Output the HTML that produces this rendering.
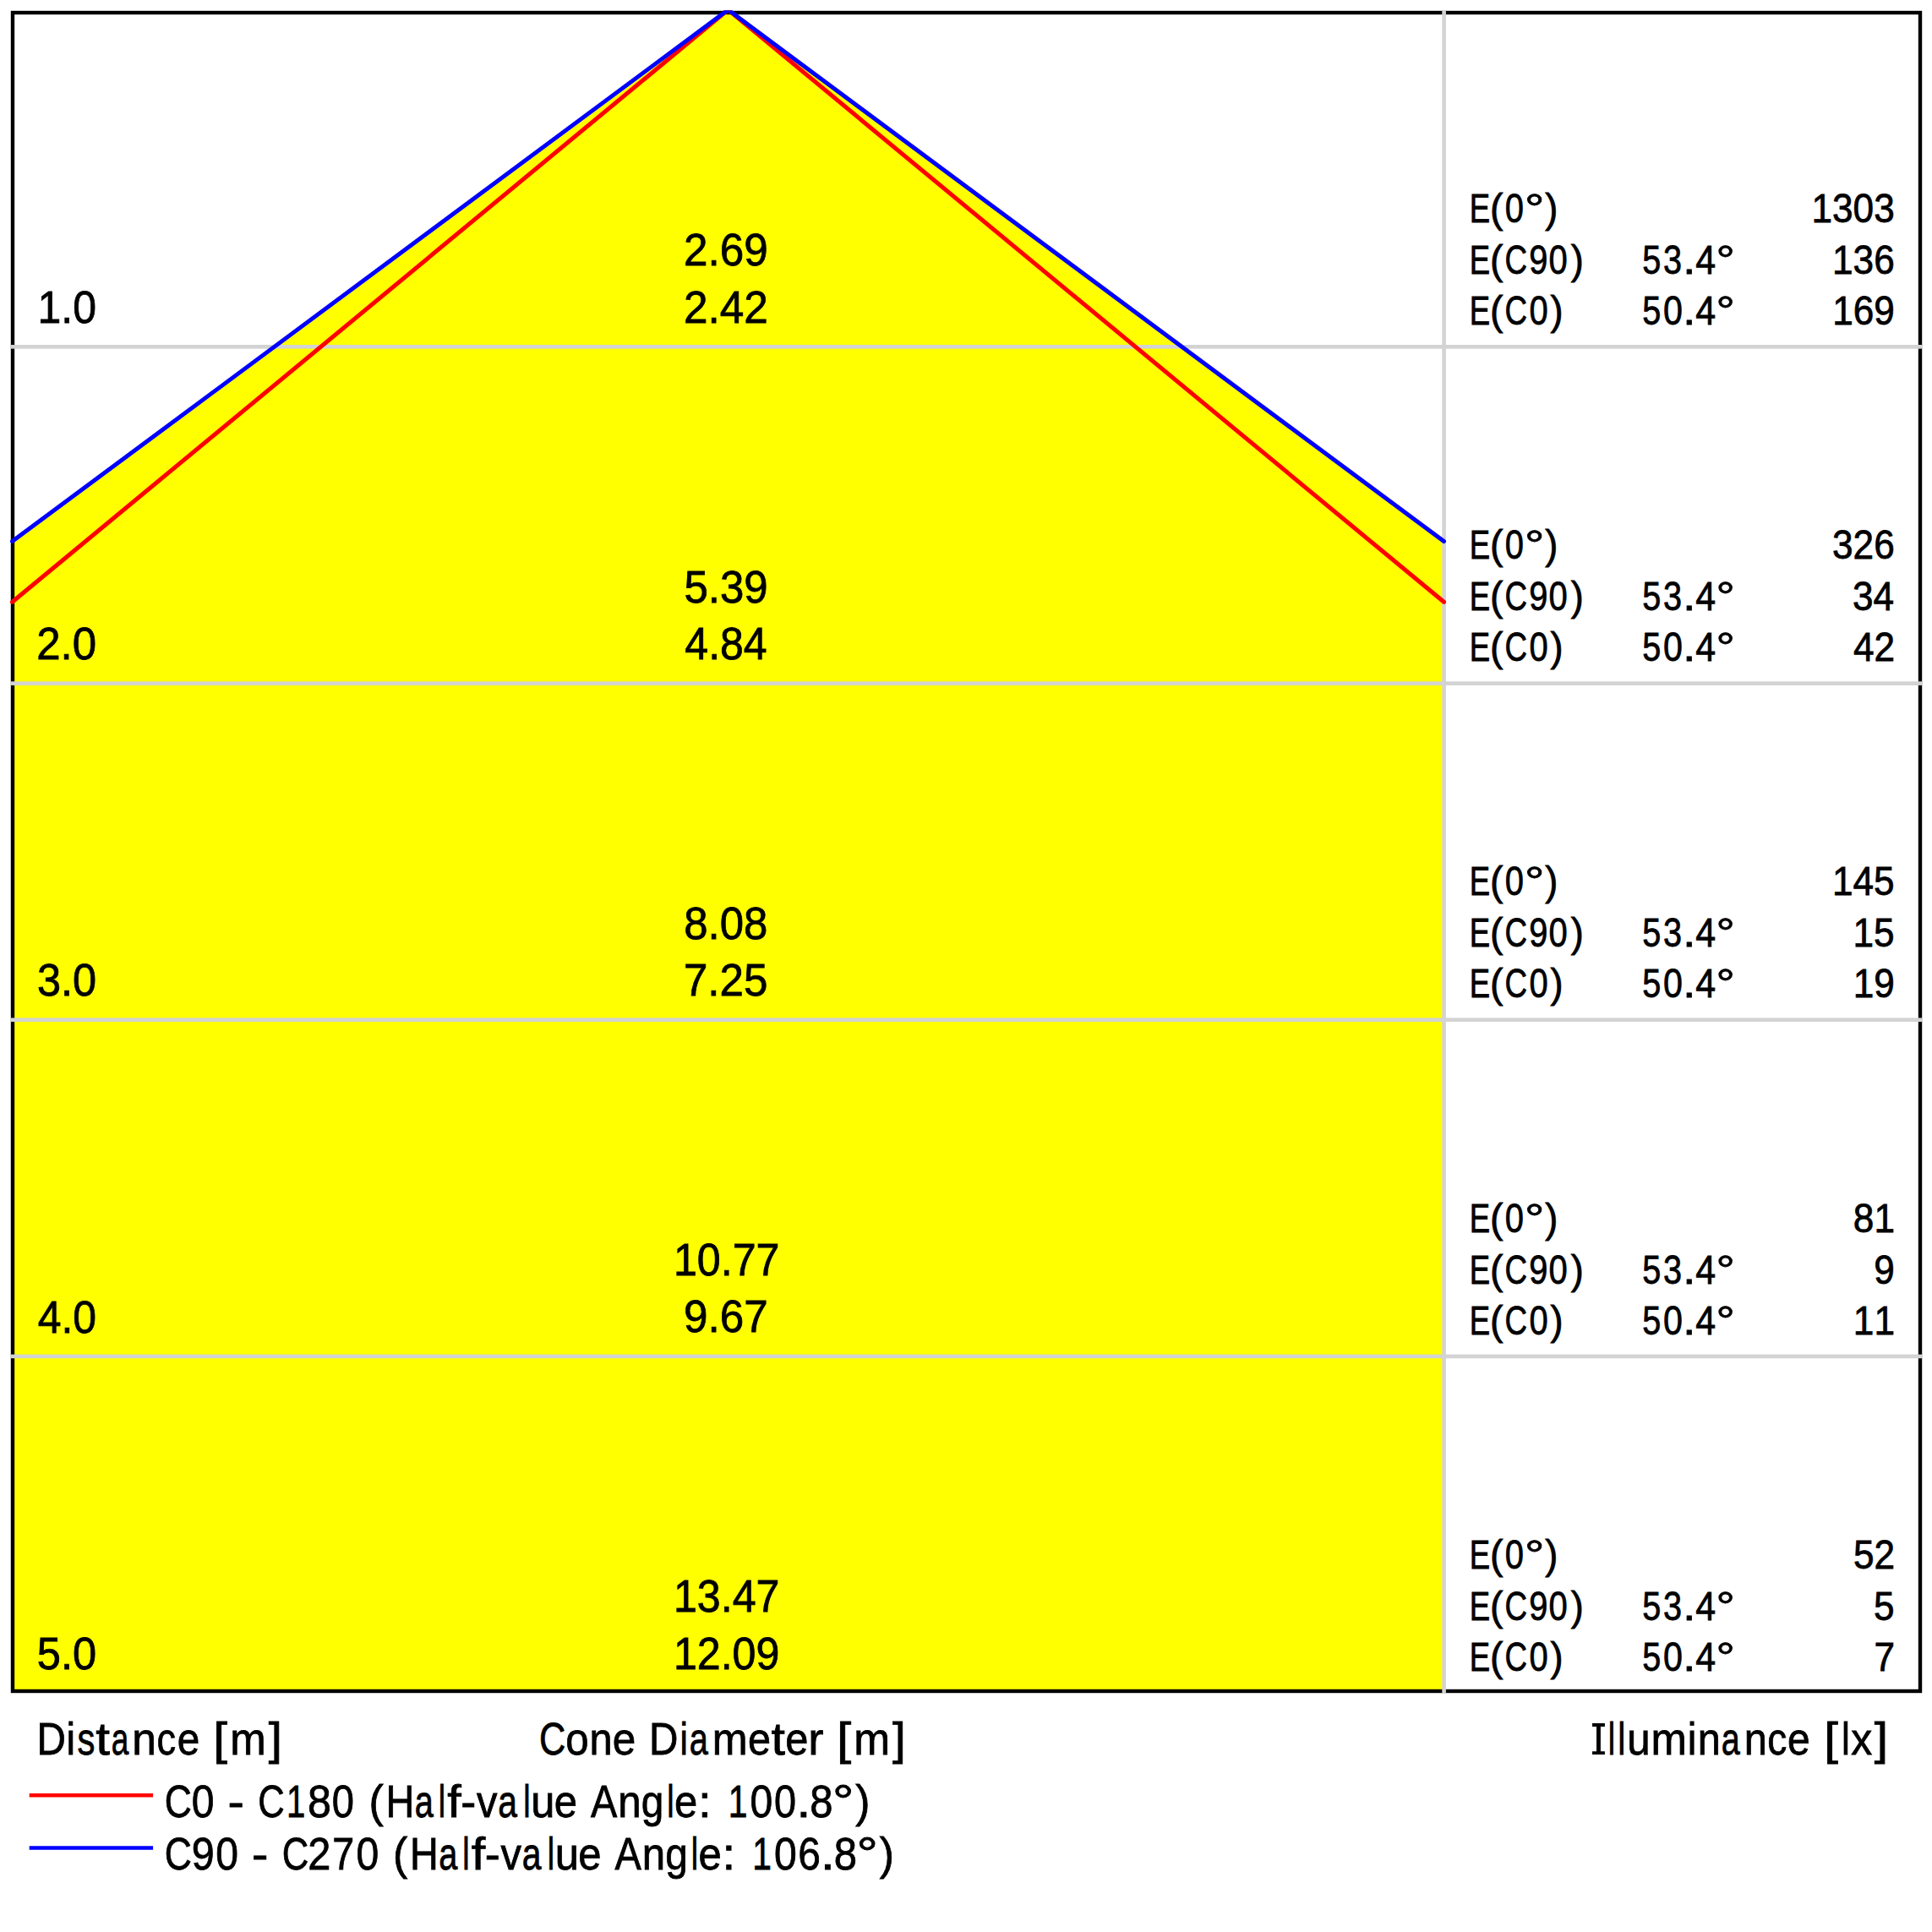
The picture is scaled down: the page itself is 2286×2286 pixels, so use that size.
<!DOCTYPE html>
<html><head><meta charset="utf-8"><title>Cone Diagram</title>
<style>html,body{margin:0;padding:0;background:#fff;}body{width:2286px;height:2286px;overflow:hidden;font-family:"Liberation Sans",sans-serif;}svg{display:block;}</style>
</head><body>
<svg width="2286" height="2286" viewBox="0 0 2286 2286">
<defs><clipPath id="cp"><rect x="0" y="12.3" width="2286" height="2000"/></clipPath></defs>
<rect x="0" y="0" width="2286" height="2286" fill="#fff"/>
<polygon points="861.5,11.6 1708.5,640.6 1708.5,2001 14.5,2001 14.5,640.6" fill="#ffff00"/>
<rect x="15" y="15" width="2257" height="1986" fill="none" stroke="#000" stroke-width="4.4"/>
<rect x="1706.30" y="12.6" width="4.6" height="1990.8" fill="#d3d3d3"/>
<rect x="12.6" y="408.00" width="2262.0" height="4.6" fill="#d3d3d3"/>
<rect x="12.6" y="806.30" width="2262.0" height="4.6" fill="#d3d3d3"/>
<rect x="12.6" y="1204.40" width="2262.0" height="4.6" fill="#d3d3d3"/>
<rect x="12.6" y="1602.60" width="2262.0" height="4.6" fill="#d3d3d3"/>
<g clip-path="url(#cp)" fill="none" stroke-width="5.0" stroke-linecap="round" stroke-linejoin="round">
<polyline points="14.5,712.3 861.5,11.6 1708.5,712.3" stroke="#ff0000"/>
<polyline points="14.5,640.6 861.5,11.6 1708.5,640.6" stroke="#0000ff"/>
</g>
<g font-family="'Liberation Sans', sans-serif" stroke="#000" stroke-width="0.8" style="font-kerning:none;font-variant-ligatures:none">
<text transform="matrix(0.9392,0,0,1,44.59,382.00)" font-size="53.2" fill="#000">1.0</text>
<text transform="matrix(0.9629,0,0,1,808.92,314.30)" font-size="53.2" fill="#000">2.69</text>
<text transform="matrix(0.9644,0,0,1,808.92,381.80)" font-size="53.2" fill="#000">2.42</text>
<text transform="matrix(0.7611,0,0,1,1738.80,262.90)" font-size="48.0">E</text>
<text transform="matrix(0.9665,0,0,1,1762.92,262.90)" font-size="48.0">(</text>
<text transform="matrix(0.8324,0,0,1,1780.74,262.90)" font-size="48.0">0</text>
<text transform="matrix(1.2190,0,0,1,1804.01,262.90)" font-size="48.0">°</text>
<text transform="matrix(0.9429,0,0,1,1828.23,262.90)" font-size="48.0">)</text>
<text transform="matrix(0.7611,0,0,1,1738.80,323.90)" font-size="48.0">E</text>
<text transform="matrix(0.9665,0,0,1,1762.92,323.90)" font-size="48.0">(</text>
<text transform="matrix(0.7665,0,0,1,1780.43,323.90)" font-size="48.0">C</text>
<text transform="matrix(0.8299,0,0,1,1809.33,323.90)" font-size="48.0">9</text>
<text transform="matrix(0.8324,0,0,1,1832.54,323.90)" font-size="48.0">0</text>
<text transform="matrix(0.9429,0,0,1,1858.63,323.90)" font-size="48.0">)</text>
<text transform="matrix(0.7611,0,0,1,1738.80,384.00)" font-size="48.0">E</text>
<text transform="matrix(0.9665,0,0,1,1762.92,384.00)" font-size="48.0">(</text>
<text transform="matrix(0.7665,0,0,1,1780.43,384.00)" font-size="48.0">C</text>
<text transform="matrix(0.8324,0,0,1,1809.44,384.00)" font-size="48.0">0</text>
<text transform="matrix(0.9429,0,0,1,1834.43,384.00)" font-size="48.0">)</text>
<text transform="matrix(0.8261,0,0,1,1943.21,323.90)" font-size="48.0">5</text>
<text transform="matrix(0.8261,0,0,1,1967.99,323.90)" font-size="48.0">3</text>
<text transform="matrix(1.1597,0,0,1,1991.02,323.90)" font-size="48.0">.</text>
<text transform="matrix(0.8930,0,0,1,2006.32,323.90)" font-size="48.0">4</text>
<text transform="matrix(1.1596,0,0,1,2030.48,323.90)" font-size="48.0">°</text>
<text transform="matrix(0.8261,0,0,1,1943.21,384.00)" font-size="48.0">5</text>
<text transform="matrix(0.8586,0,0,1,1967.89,384.00)" font-size="48.0">0</text>
<text transform="matrix(1.1597,0,0,1,1991.02,384.00)" font-size="48.0">.</text>
<text transform="matrix(0.8930,0,0,1,2006.32,384.00)" font-size="48.0">4</text>
<text transform="matrix(1.1596,0,0,1,2030.48,384.00)" font-size="48.0">°</text>
<text transform="matrix(0.9200,0,0,1,2143.50,262.90)" font-size="48.0" fill="#000">1303</text>
<text transform="matrix(0.9200,0,0,1,2168.06,323.90)" font-size="48.0" fill="#000">136</text>
<text transform="matrix(0.9200,0,0,1,2168.21,384.00)" font-size="48.0" fill="#000">169</text>
<text transform="matrix(0.9581,0,0,1,43.24,780.20)" font-size="53.2" fill="#000">2.0</text>
<text transform="matrix(0.9576,0,0,1,809.46,712.50)" font-size="53.2" fill="#000">5.39</text>
<text transform="matrix(0.9398,0,0,1,810.35,780.00)" font-size="53.2" fill="#000">4.84</text>
<text transform="matrix(0.7611,0,0,1,1738.80,661.10)" font-size="48.0">E</text>
<text transform="matrix(0.9665,0,0,1,1762.92,661.10)" font-size="48.0">(</text>
<text transform="matrix(0.8324,0,0,1,1780.74,661.10)" font-size="48.0">0</text>
<text transform="matrix(1.2190,0,0,1,1804.01,661.10)" font-size="48.0">°</text>
<text transform="matrix(0.9429,0,0,1,1828.23,661.10)" font-size="48.0">)</text>
<text transform="matrix(0.7611,0,0,1,1738.80,722.10)" font-size="48.0">E</text>
<text transform="matrix(0.9665,0,0,1,1762.92,722.10)" font-size="48.0">(</text>
<text transform="matrix(0.7665,0,0,1,1780.43,722.10)" font-size="48.0">C</text>
<text transform="matrix(0.8299,0,0,1,1809.33,722.10)" font-size="48.0">9</text>
<text transform="matrix(0.8324,0,0,1,1832.54,722.10)" font-size="48.0">0</text>
<text transform="matrix(0.9429,0,0,1,1858.63,722.10)" font-size="48.0">)</text>
<text transform="matrix(0.7611,0,0,1,1738.80,782.20)" font-size="48.0">E</text>
<text transform="matrix(0.9665,0,0,1,1762.92,782.20)" font-size="48.0">(</text>
<text transform="matrix(0.7665,0,0,1,1780.43,782.20)" font-size="48.0">C</text>
<text transform="matrix(0.8324,0,0,1,1809.44,782.20)" font-size="48.0">0</text>
<text transform="matrix(0.9429,0,0,1,1834.43,782.20)" font-size="48.0">)</text>
<text transform="matrix(0.8261,0,0,1,1943.21,722.10)" font-size="48.0">5</text>
<text transform="matrix(0.8261,0,0,1,1967.99,722.10)" font-size="48.0">3</text>
<text transform="matrix(1.1597,0,0,1,1991.02,722.10)" font-size="48.0">.</text>
<text transform="matrix(0.8930,0,0,1,2006.32,722.10)" font-size="48.0">4</text>
<text transform="matrix(1.1596,0,0,1,2030.48,722.10)" font-size="48.0">°</text>
<text transform="matrix(0.8261,0,0,1,1943.21,782.20)" font-size="48.0">5</text>
<text transform="matrix(0.8586,0,0,1,1967.89,782.20)" font-size="48.0">0</text>
<text transform="matrix(1.1597,0,0,1,1991.02,782.20)" font-size="48.0">.</text>
<text transform="matrix(0.8930,0,0,1,2006.32,782.20)" font-size="48.0">4</text>
<text transform="matrix(1.1596,0,0,1,2030.48,782.20)" font-size="48.0">°</text>
<text transform="matrix(0.9200,0,0,1,2168.06,661.10)" font-size="48.0" fill="#000">326</text>
<text transform="matrix(0.9200,0,0,1,2191.97,722.10)" font-size="48.0" fill="#000">34</text>
<text transform="matrix(0.9200,0,0,1,2192.90,782.20)" font-size="48.0" fill="#000">42</text>
<text transform="matrix(0.9492,0,0,1,43.88,1178.40)" font-size="53.2" fill="#000">3.0</text>
<text transform="matrix(0.9574,0,0,1,809.29,1110.70)" font-size="53.2" fill="#000">8.08</text>
<text transform="matrix(0.9606,0,0,1,808.88,1178.20)" font-size="53.2" fill="#000">7.25</text>
<text transform="matrix(0.7611,0,0,1,1738.80,1059.30)" font-size="48.0">E</text>
<text transform="matrix(0.9665,0,0,1,1762.92,1059.30)" font-size="48.0">(</text>
<text transform="matrix(0.8324,0,0,1,1780.74,1059.30)" font-size="48.0">0</text>
<text transform="matrix(1.2190,0,0,1,1804.01,1059.30)" font-size="48.0">°</text>
<text transform="matrix(0.9429,0,0,1,1828.23,1059.30)" font-size="48.0">)</text>
<text transform="matrix(0.7611,0,0,1,1738.80,1120.30)" font-size="48.0">E</text>
<text transform="matrix(0.9665,0,0,1,1762.92,1120.30)" font-size="48.0">(</text>
<text transform="matrix(0.7665,0,0,1,1780.43,1120.30)" font-size="48.0">C</text>
<text transform="matrix(0.8299,0,0,1,1809.33,1120.30)" font-size="48.0">9</text>
<text transform="matrix(0.8324,0,0,1,1832.54,1120.30)" font-size="48.0">0</text>
<text transform="matrix(0.9429,0,0,1,1858.63,1120.30)" font-size="48.0">)</text>
<text transform="matrix(0.7611,0,0,1,1738.80,1180.40)" font-size="48.0">E</text>
<text transform="matrix(0.9665,0,0,1,1762.92,1180.40)" font-size="48.0">(</text>
<text transform="matrix(0.7665,0,0,1,1780.43,1180.40)" font-size="48.0">C</text>
<text transform="matrix(0.8324,0,0,1,1809.44,1180.40)" font-size="48.0">0</text>
<text transform="matrix(0.9429,0,0,1,1834.43,1180.40)" font-size="48.0">)</text>
<text transform="matrix(0.8261,0,0,1,1943.21,1120.30)" font-size="48.0">5</text>
<text transform="matrix(0.8261,0,0,1,1967.99,1120.30)" font-size="48.0">3</text>
<text transform="matrix(1.1597,0,0,1,1991.02,1120.30)" font-size="48.0">.</text>
<text transform="matrix(0.8930,0,0,1,2006.32,1120.30)" font-size="48.0">4</text>
<text transform="matrix(1.1596,0,0,1,2030.48,1120.30)" font-size="48.0">°</text>
<text transform="matrix(0.8261,0,0,1,1943.21,1180.40)" font-size="48.0">5</text>
<text transform="matrix(0.8586,0,0,1,1967.89,1180.40)" font-size="48.0">0</text>
<text transform="matrix(1.1597,0,0,1,1991.02,1180.40)" font-size="48.0">.</text>
<text transform="matrix(0.8930,0,0,1,2006.32,1180.40)" font-size="48.0">4</text>
<text transform="matrix(1.1596,0,0,1,2030.48,1180.40)" font-size="48.0">°</text>
<text transform="matrix(0.9200,0,0,1,2167.98,1059.30)" font-size="48.0" fill="#000">145</text>
<text transform="matrix(0.9200,0,0,1,2192.54,1120.30)" font-size="48.0" fill="#000">15</text>
<text transform="matrix(0.9200,0,0,1,2192.77,1180.40)" font-size="48.0" fill="#000">19</text>
<text transform="matrix(0.9383,0,0,1,44.65,1576.60)" font-size="53.2" fill="#000">4.0</text>
<text transform="matrix(0.9430,0,0,1,796.98,1508.90)" font-size="53.2" fill="#000">10.77</text>
<text transform="matrix(0.9627,0,0,1,809.10,1576.40)" font-size="53.2" fill="#000">9.67</text>
<text transform="matrix(0.7611,0,0,1,1738.80,1457.50)" font-size="48.0">E</text>
<text transform="matrix(0.9665,0,0,1,1762.92,1457.50)" font-size="48.0">(</text>
<text transform="matrix(0.8324,0,0,1,1780.74,1457.50)" font-size="48.0">0</text>
<text transform="matrix(1.2190,0,0,1,1804.01,1457.50)" font-size="48.0">°</text>
<text transform="matrix(0.9429,0,0,1,1828.23,1457.50)" font-size="48.0">)</text>
<text transform="matrix(0.7611,0,0,1,1738.80,1518.50)" font-size="48.0">E</text>
<text transform="matrix(0.9665,0,0,1,1762.92,1518.50)" font-size="48.0">(</text>
<text transform="matrix(0.7665,0,0,1,1780.43,1518.50)" font-size="48.0">C</text>
<text transform="matrix(0.8299,0,0,1,1809.33,1518.50)" font-size="48.0">9</text>
<text transform="matrix(0.8324,0,0,1,1832.54,1518.50)" font-size="48.0">0</text>
<text transform="matrix(0.9429,0,0,1,1858.63,1518.50)" font-size="48.0">)</text>
<text transform="matrix(0.7611,0,0,1,1738.80,1578.60)" font-size="48.0">E</text>
<text transform="matrix(0.9665,0,0,1,1762.92,1578.60)" font-size="48.0">(</text>
<text transform="matrix(0.7665,0,0,1,1780.43,1578.60)" font-size="48.0">C</text>
<text transform="matrix(0.8324,0,0,1,1809.44,1578.60)" font-size="48.0">0</text>
<text transform="matrix(0.9429,0,0,1,1834.43,1578.60)" font-size="48.0">)</text>
<text transform="matrix(0.8261,0,0,1,1943.21,1518.50)" font-size="48.0">5</text>
<text transform="matrix(0.8261,0,0,1,1967.99,1518.50)" font-size="48.0">3</text>
<text transform="matrix(1.1597,0,0,1,1991.02,1518.50)" font-size="48.0">.</text>
<text transform="matrix(0.8930,0,0,1,2006.32,1518.50)" font-size="48.0">4</text>
<text transform="matrix(1.1596,0,0,1,2030.48,1518.50)" font-size="48.0">°</text>
<text transform="matrix(0.8261,0,0,1,1943.21,1578.60)" font-size="48.0">5</text>
<text transform="matrix(0.8586,0,0,1,1967.89,1578.60)" font-size="48.0">0</text>
<text transform="matrix(1.1597,0,0,1,1991.02,1578.60)" font-size="48.0">.</text>
<text transform="matrix(0.8930,0,0,1,2006.32,1578.60)" font-size="48.0">4</text>
<text transform="matrix(1.1596,0,0,1,2030.48,1578.60)" font-size="48.0">°</text>
<text transform="matrix(0.9200,0,0,1,2192.84,1457.50)" font-size="48.0" fill="#000">81</text>
<text transform="matrix(0.9200,0,0,1,2217.33,1518.50)" font-size="48.0" fill="#000">9</text>
<text transform="matrix(0.9200,0,0,1,2192.84,1578.60)" font-size="48.0" fill="#000">11</text>
<text transform="matrix(0.9506,0,0,1,43.78,1974.80)" font-size="53.2" fill="#000">5.0</text>
<text transform="matrix(0.9430,0,0,1,796.98,1907.10)" font-size="53.2" fill="#000">13.47</text>
<text transform="matrix(0.9419,0,0,1,796.98,1974.60)" font-size="53.2" fill="#000">12.09</text>
<text transform="matrix(0.7611,0,0,1,1738.80,1855.70)" font-size="48.0">E</text>
<text transform="matrix(0.9665,0,0,1,1762.92,1855.70)" font-size="48.0">(</text>
<text transform="matrix(0.8324,0,0,1,1780.74,1855.70)" font-size="48.0">0</text>
<text transform="matrix(1.2190,0,0,1,1804.01,1855.70)" font-size="48.0">°</text>
<text transform="matrix(0.9429,0,0,1,1828.23,1855.70)" font-size="48.0">)</text>
<text transform="matrix(0.7611,0,0,1,1738.80,1916.70)" font-size="48.0">E</text>
<text transform="matrix(0.9665,0,0,1,1762.92,1916.70)" font-size="48.0">(</text>
<text transform="matrix(0.7665,0,0,1,1780.43,1916.70)" font-size="48.0">C</text>
<text transform="matrix(0.8299,0,0,1,1809.33,1916.70)" font-size="48.0">9</text>
<text transform="matrix(0.8324,0,0,1,1832.54,1916.70)" font-size="48.0">0</text>
<text transform="matrix(0.9429,0,0,1,1858.63,1916.70)" font-size="48.0">)</text>
<text transform="matrix(0.7611,0,0,1,1738.80,1976.80)" font-size="48.0">E</text>
<text transform="matrix(0.9665,0,0,1,1762.92,1976.80)" font-size="48.0">(</text>
<text transform="matrix(0.7665,0,0,1,1780.43,1976.80)" font-size="48.0">C</text>
<text transform="matrix(0.8324,0,0,1,1809.44,1976.80)" font-size="48.0">0</text>
<text transform="matrix(0.9429,0,0,1,1834.43,1976.80)" font-size="48.0">)</text>
<text transform="matrix(0.8261,0,0,1,1943.21,1916.70)" font-size="48.0">5</text>
<text transform="matrix(0.8261,0,0,1,1967.99,1916.70)" font-size="48.0">3</text>
<text transform="matrix(1.1597,0,0,1,1991.02,1916.70)" font-size="48.0">.</text>
<text transform="matrix(0.8930,0,0,1,2006.32,1916.70)" font-size="48.0">4</text>
<text transform="matrix(1.1596,0,0,1,2030.48,1916.70)" font-size="48.0">°</text>
<text transform="matrix(0.8261,0,0,1,1943.21,1976.80)" font-size="48.0">5</text>
<text transform="matrix(0.8586,0,0,1,1967.89,1976.80)" font-size="48.0">0</text>
<text transform="matrix(1.1597,0,0,1,1991.02,1976.80)" font-size="48.0">.</text>
<text transform="matrix(0.8930,0,0,1,2006.32,1976.80)" font-size="48.0">4</text>
<text transform="matrix(1.1596,0,0,1,2030.48,1976.80)" font-size="48.0">°</text>
<text transform="matrix(0.9200,0,0,1,2192.90,1855.70)" font-size="48.0" fill="#000">52</text>
<text transform="matrix(0.9200,0,0,1,2217.09,1916.70)" font-size="48.0" fill="#000">5</text>
<text transform="matrix(0.9200,0,0,1,2217.46,1976.80)" font-size="48.0" fill="#000">7</text>
<text transform="matrix(0.8950,0,0,1,43.49,2076.00)" font-size="53.2">D</text>
<text transform="matrix(0.8982,0,0,1,78.60,2076.00)" font-size="53.2">i</text>
<text transform="matrix(0.7846,0,0,1,91.44,2076.00)" font-size="53.2">s</text>
<text transform="matrix(1.1335,0,0,1,113.19,2076.00)" font-size="53.2">t</text>
<text transform="matrix(0.6953,0,0,1,131.63,2076.00)" font-size="53.2">a</text>
<text transform="matrix(0.9690,0,0,1,156.28,2076.00)" font-size="53.2">n</text>
<text transform="matrix(0.8501,0,0,1,185.48,2076.00)" font-size="53.2">c</text>
<text transform="matrix(0.8973,0,0,1,209.87,2076.00)" font-size="53.2">e</text>
<text transform="matrix(1.1350,0,0,1,252.30,2076.00)" font-size="53.2">[</text>
<text transform="matrix(0.9577,0,0,1,272.22,2076.00)" font-size="53.2">m</text>
<text transform="matrix(1.0972,0,0,1,317.84,2076.00)" font-size="53.2">]</text>
<text transform="matrix(0.8133,0,0,1,638.10,2076.00)" font-size="53.2">C</text>
<text transform="matrix(0.9236,0,0,1,669.34,2076.00)" font-size="53.2">o</text>
<text transform="matrix(0.9159,0,0,1,697.56,2076.00)" font-size="53.2">n</text>
<text transform="matrix(0.9294,0,0,1,724.80,2076.00)" font-size="53.2">e</text>
<text transform="matrix(0.8950,0,0,1,768.09,2076.00)" font-size="53.2">D</text>
<text transform="matrix(0.7913,0,0,1,804.38,2076.00)" font-size="53.2">i</text>
<text transform="matrix(0.7465,0,0,1,815.81,2076.00)" font-size="53.2">a</text>
<text transform="matrix(0.9443,0,0,1,842.76,2076.00)" font-size="53.2">m</text>
<text transform="matrix(0.9133,0,0,1,885.04,2076.00)" font-size="53.2">e</text>
<text transform="matrix(1.1115,0,0,1,912.50,2076.00)" font-size="53.2">t</text>
<text transform="matrix(0.9173,0,0,1,929.13,2076.00)" font-size="53.2">e</text>
<text transform="matrix(1.0301,0,0,1,956.36,2076.00)" font-size="53.2">r</text>
<text transform="matrix(1.1634,0,0,1,990.09,2076.00)" font-size="53.2">[</text>
<text transform="matrix(0.9658,0,0,1,1010.19,2076.00)" font-size="53.2">m</text>
<text transform="matrix(1.0688,0,0,1,1056.06,2076.00)" font-size="53.2">]</text>
<text transform="matrix(0.7058,0,0,1,1902.67,2075.60)" font-size="53.2">l</text>
<text transform="matrix(0.7699,0,0,1,1914.24,2075.60)" font-size="53.2">l</text>
<text transform="matrix(0.9248,0,0,1,1925.30,2075.60)" font-size="53.2">u</text>
<text transform="matrix(0.9550,0,0,1,1953.43,2075.60)" font-size="53.2">m</text>
<text transform="matrix(0.8982,0,0,1,1996.70,2075.60)" font-size="53.2">i</text>
<text transform="matrix(0.9159,0,0,1,2008.66,2075.60)" font-size="53.2">n</text>
<text transform="matrix(0.7428,0,0,1,2036.72,2075.60)" font-size="53.2">a</text>
<text transform="matrix(0.9159,0,0,1,2063.76,2075.60)" font-size="53.2">n</text>
<text transform="matrix(0.8676,0,0,1,2091.14,2075.60)" font-size="53.2">c</text>
<text transform="matrix(0.9013,0,0,1,2115.06,2075.60)" font-size="53.2">e</text>
<text transform="matrix(1.1256,0,0,1,2158.23,2075.60)" font-size="53.2">[</text>
<text transform="matrix(0.8341,0,0,1,2179.01,2075.60)" font-size="53.2">l</text>
<text transform="matrix(0.9359,0,0,1,2190.14,2075.60)" font-size="53.2">x</text>
<text transform="matrix(1.1066,0,0,1,2217.84,2075.60)" font-size="53.2">]</text>
<path d="M1884,2039H1898.9V2042.9H1893.9V2072.2H1898.9V2076H1884V2072.2H1889V2042.9H1884Z" stroke="none"/>
<text transform="matrix(0.8370,0,0,1,194.84,2149.50)" font-size="53.2">C</text>
<text transform="matrix(0.9044,0,0,1,226.82,2149.50)" font-size="53.2">0</text>
<text transform="matrix(1.0933,0,0,1,269.62,2149.50)" font-size="53.2">-</text>
<text transform="matrix(0.8192,0,0,1,305.19,2149.50)" font-size="53.2">C</text>
<text transform="matrix(0.7542,0,0,1,339.04,2149.50)" font-size="53.2">1</text>
<text transform="matrix(0.9414,0,0,1,363.92,2149.50)" font-size="53.2">8</text>
<text transform="matrix(0.8847,0,0,1,392.76,2149.50)" font-size="53.2">0</text>
<text transform="matrix(0.9713,0,0,1,436.40,2149.50)" font-size="53.2">(</text>
<text transform="matrix(0.8783,0,0,1,456.47,2149.50)" font-size="53.2">H</text>
<text transform="matrix(0.7465,0,0,1,490.71,2149.50)" font-size="53.2">a</text>
<text transform="matrix(0.7058,0,0,1,518.87,2149.50)" font-size="53.2">l</text>
<text transform="matrix(1.1131,0,0,1,529.36,2149.50)" font-size="53.2">f</text>
<text transform="matrix(1.0163,0,0,1,545.20,2149.50)" font-size="53.2">-</text>
<text transform="matrix(0.9186,0,0,1,564.03,2149.50)" font-size="53.2">v</text>
<text transform="matrix(0.7685,0,0,1,589.36,2149.50)" font-size="53.2">a</text>
<text transform="matrix(0.7058,0,0,1,619.17,2149.50)" font-size="53.2">l</text>
<text transform="matrix(0.9513,0,0,1,628.21,2149.50)" font-size="53.2">u</text>
<text transform="matrix(0.9213,0,0,1,655.82,2149.50)" font-size="53.2">e</text>
<text transform="matrix(0.8816,0,0,1,699.11,2149.50)" font-size="53.2">A</text>
<text transform="matrix(0.9248,0,0,1,731.13,2149.50)" font-size="53.2">n</text>
<text transform="matrix(0.8987,0,0,1,758.79,2149.50)" font-size="53.2">g</text>
<text transform="matrix(0.7058,0,0,1,789.32,2149.50)" font-size="53.2">l</text>
<text transform="matrix(0.9213,0,0,1,798.02,2149.50)" font-size="53.2">e</text>
<text transform="matrix(1.0660,0,0,1,826.02,2149.50)" font-size="53.2">:</text>
<text transform="matrix(0.7673,0,0,1,861.79,2149.50)" font-size="53.2">1</text>
<text transform="matrix(0.9044,0,0,1,887.52,2149.50)" font-size="53.2">0</text>
<text transform="matrix(0.8808,0,0,1,916.07,2149.50)" font-size="53.2">0</text>
<text transform="matrix(1.1648,0,0,1,942.24,2149.50)" font-size="53.2">.</text>
<text transform="matrix(0.9213,0,0,1,958.17,2149.50)" font-size="53.2">8</text>
<text transform="matrix(1.1938,0,0,1,985.02,2149.50)" font-size="53.2">°</text>
<text transform="matrix(0.9713,0,0,1,1012.30,2149.50)" font-size="53.2">)</text>
<text transform="matrix(0.8370,0,0,1,194.84,2211.60)" font-size="53.2">C</text>
<text transform="matrix(0.9115,0,0,1,226.73,2211.60)" font-size="53.2">9</text>
<text transform="matrix(0.9044,0,0,1,255.32,2211.60)" font-size="53.2">0</text>
<text transform="matrix(1.0933,0,0,1,298.12,2211.60)" font-size="53.2">-</text>
<text transform="matrix(0.8192,0,0,1,333.69,2211.60)" font-size="53.2">C</text>
<text transform="matrix(0.9160,0,0,1,364.30,2211.60)" font-size="53.2">2</text>
<text transform="matrix(0.8766,0,0,1,393.36,2211.60)" font-size="53.2">7</text>
<text transform="matrix(0.9044,0,0,1,421.47,2211.60)" font-size="53.2">0</text>
<text transform="matrix(0.9713,0,0,1,464.90,2211.60)" font-size="53.2">(</text>
<text transform="matrix(0.8783,0,0,1,484.97,2211.60)" font-size="53.2">H</text>
<text transform="matrix(0.7465,0,0,1,519.21,2211.60)" font-size="53.2">a</text>
<text transform="matrix(0.7058,0,0,1,547.37,2211.60)" font-size="53.2">l</text>
<text transform="matrix(1.1131,0,0,1,557.86,2211.60)" font-size="53.2">f</text>
<text transform="matrix(1.0163,0,0,1,573.70,2211.60)" font-size="53.2">-</text>
<text transform="matrix(0.9186,0,0,1,592.53,2211.60)" font-size="53.2">v</text>
<text transform="matrix(0.7685,0,0,1,617.86,2211.60)" font-size="53.2">a</text>
<text transform="matrix(0.7058,0,0,1,647.67,2211.60)" font-size="53.2">l</text>
<text transform="matrix(0.9513,0,0,1,656.71,2211.60)" font-size="53.2">u</text>
<text transform="matrix(0.9213,0,0,1,684.32,2211.60)" font-size="53.2">e</text>
<text transform="matrix(0.8816,0,0,1,727.61,2211.60)" font-size="53.2">A</text>
<text transform="matrix(0.9248,0,0,1,759.63,2211.60)" font-size="53.2">n</text>
<text transform="matrix(0.8987,0,0,1,787.29,2211.60)" font-size="53.2">g</text>
<text transform="matrix(0.7058,0,0,1,817.82,2211.60)" font-size="53.2">l</text>
<text transform="matrix(0.9213,0,0,1,826.52,2211.60)" font-size="53.2">e</text>
<text transform="matrix(1.0660,0,0,1,854.52,2211.60)" font-size="53.2">:</text>
<text transform="matrix(0.7673,0,0,1,890.29,2211.60)" font-size="53.2">1</text>
<text transform="matrix(0.9044,0,0,1,916.02,2211.60)" font-size="53.2">0</text>
<text transform="matrix(0.9003,0,0,1,944.27,2211.60)" font-size="53.2">6</text>
<text transform="matrix(1.1648,0,0,1,970.74,2211.60)" font-size="53.2">.</text>
<text transform="matrix(0.9213,0,0,1,986.67,2211.60)" font-size="53.2">8</text>
<text transform="matrix(1.1938,0,0,1,1013.52,2211.60)" font-size="53.2">°</text>
<text transform="matrix(0.9713,0,0,1,1040.80,2211.60)" font-size="53.2">)</text>
</g>
<line x1="34.7" y1="2124.3" x2="181.1" y2="2124.3" stroke="#ff0000" stroke-width="4.6"/>
<line x1="34.7" y1="2186.5" x2="181.1" y2="2186.5" stroke="#0000ff" stroke-width="4.6"/>
</svg>
</body></html>
